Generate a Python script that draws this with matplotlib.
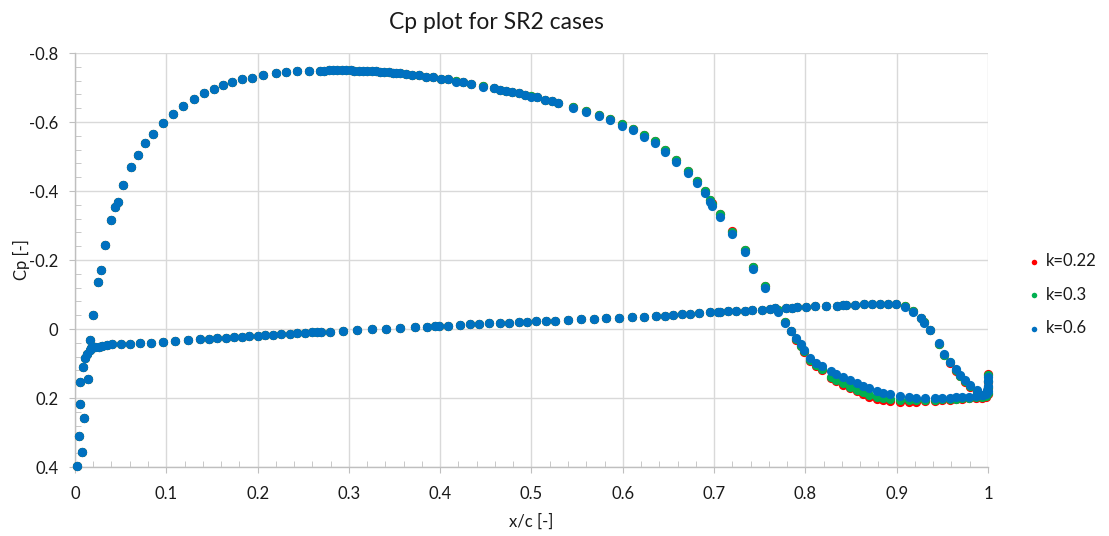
import matplotlib
matplotlib.use("Agg")
import matplotlib.pyplot as plt
from matplotlib.ticker import MultipleLocator

plt.rcParams['font.family'] = ['Lato', 'DejaVu Sans']

# ---------------- data ----------------
series_labels = ["k=0.22", "k=0.3", "k=0.6"]
series_colors = ["#FF0000", "#00B050", "#0070C0"]

# suction side
x_suction = [
    0.008, 0.010, 0.014, 0.017, 0.020, 0.025, 0.029, 0.033, 0.039, 0.044,
    0.047, 0.053, 0.061, 0.069, 0.077, 0.086, 0.096, 0.107, 0.118, 0.130,
    0.141, 0.152, 0.162, 0.172, 0.183, 0.194, 0.206, 0.220, 0.231, 0.243,
    0.256, 0.268, 0.273, 0.278, 0.283, 0.287, 0.292, 0.297, 0.302, 0.306,
    0.311, 0.316, 0.320, 0.325, 0.330, 0.334, 0.339, 0.344, 0.348, 0.352,
    0.356, 0.363, 0.369, 0.377, 0.385, 0.392, 0.401, 0.409, 0.417, 0.425,
    0.434, 0.447, 0.459, 0.465, 0.472, 0.479, 0.486, 0.493, 0.500, 0.506,
    0.515, 0.522, 0.529, 0.545, 0.560, 0.574, 0.586, 0.599, 0.611, 0.623,
    0.635, 0.646, 0.658, 0.671, 0.681, 0.690, 0.695, 0.698, 0.707, 0.720,
    0.734, 0.743, 0.756, 0.770, 0.778, 0.784, 0.790, 0.795, 0.799, 0.805,
    0.812, 0.818, 0.828, 0.834, 0.841, 0.849, 0.856, 0.863, 0.870, 0.878,
    0.885, 0.893, 0.904, 0.913, 0.921, 0.931, 0.942, 0.950, 0.958, 0.965,
    0.972, 0.979, 0.987, 0.993, 0.998, 1.000,
]
cp_suction_k06 = [
    0.357, 0.257, 0.144, 0.033, -0.040, -0.135, -0.171, -0.244, -0.315, -0.353,
    -0.369, -0.418, -0.470, -0.505, -0.538, -0.566, -0.598, -0.624, -0.646, -0.668,
    -0.684, -0.696, -0.707, -0.715, -0.725, -0.728, -0.736, -0.741, -0.744, -0.747,
    -0.748, -0.749, -0.749, -0.750, -0.750, -0.750, -0.750, -0.750, -0.750, -0.749,
    -0.749, -0.748, -0.748, -0.747, -0.747, -0.746, -0.745, -0.744, -0.743, -0.742,
    -0.741, -0.739, -0.736, -0.735, -0.731, -0.730, -0.726, -0.724, -0.717, -0.715,
    -0.710, -0.702, -0.698, -0.693, -0.690, -0.686, -0.683, -0.678, -0.673, -0.672,
    -0.664, -0.661, -0.654, -0.641, -0.629, -0.617, -0.605, -0.589, -0.576, -0.556,
    -0.538, -0.512, -0.484, -0.451, -0.424, -0.395, -0.369, -0.357, -0.326, -0.275,
    -0.222, -0.173, -0.119, -0.050, -0.018, 0.005, 0.027, 0.043, 0.061, 0.085,
    0.098, 0.107, 0.121, 0.130, 0.138, 0.148, 0.156, 0.165, 0.172, 0.179,
    0.185, 0.189, 0.194, 0.198, 0.201, 0.201, 0.201, 0.200, 0.199, 0.198,
    0.197, 0.196, 0.194, 0.192, 0.188, 0.180,
]
cp_suction_k03 = [
    0.357, 0.257, 0.144, 0.033, -0.040, -0.135, -0.171, -0.244, -0.315, -0.353,
    -0.369, -0.418, -0.470, -0.505, -0.538, -0.566, -0.598, -0.624, -0.646, -0.668,
    -0.684, -0.696, -0.707, -0.715, -0.725, -0.728, -0.736, -0.741, -0.744, -0.747,
    -0.748, -0.749, -0.749, -0.750, -0.750, -0.750, -0.750, -0.750, -0.750, -0.749,
    -0.749, -0.748, -0.748, -0.747, -0.747, -0.746, -0.745, -0.744, -0.743, -0.742,
    -0.741, -0.739, -0.736, -0.735, -0.731, -0.730, -0.726, -0.724, -0.718, -0.716,
    -0.711, -0.703, -0.699, -0.694, -0.691, -0.687, -0.684, -0.679, -0.674, -0.673,
    -0.665, -0.662, -0.656, -0.644, -0.632, -0.621, -0.609, -0.594, -0.581, -0.562,
    -0.544, -0.518, -0.490, -0.457, -0.430, -0.401, -0.375, -0.363, -0.332, -0.281,
    -0.228, -0.179, -0.125, -0.054, -0.020, 0.006, 0.030, 0.048, 0.064, 0.090,
    0.105, 0.117, 0.138, 0.147, 0.157, 0.167, 0.176, 0.184, 0.191, 0.196,
    0.201, 0.204, 0.206, 0.207, 0.207, 0.206, 0.205, 0.204, 0.203, 0.202,
    0.200, 0.199, 0.198, 0.197, 0.195, 0.186,
]
cp_suction_k022 = [
    0.357, 0.257, 0.144, 0.033, -0.040, -0.135, -0.171, -0.244, -0.315, -0.353,
    -0.369, -0.418, -0.470, -0.505, -0.538, -0.566, -0.598, -0.624, -0.646, -0.668,
    -0.684, -0.696, -0.707, -0.715, -0.725, -0.728, -0.736, -0.741, -0.744, -0.747,
    -0.748, -0.749, -0.749, -0.750, -0.750, -0.750, -0.750, -0.750, -0.750, -0.749,
    -0.749, -0.748, -0.748, -0.747, -0.747, -0.746, -0.745, -0.744, -0.743, -0.742,
    -0.741, -0.739, -0.736, -0.735, -0.731, -0.730, -0.726, -0.724, -0.718, -0.716,
    -0.711, -0.703, -0.699, -0.694, -0.691, -0.687, -0.684, -0.679, -0.674, -0.673,
    -0.665, -0.662, -0.656, -0.644, -0.632, -0.621, -0.609, -0.594, -0.581, -0.562,
    -0.544, -0.518, -0.490, -0.457, -0.430, -0.401, -0.375, -0.364, -0.333, -0.283,
    -0.230, -0.180, -0.126, -0.055, -0.020, 0.007, 0.032, 0.050, 0.066, 0.093,
    0.108, 0.120, 0.142, 0.151, 0.162, 0.172, 0.181, 0.189, 0.196, 0.202,
    0.207, 0.210, 0.212, 0.212, 0.211, 0.209, 0.208, 0.206, 0.205, 0.204,
    0.202, 0.201, 0.200, 0.199, 0.197, 0.188,
]

# pressure side
x_pressure = [
    0.002, 0.004, 0.005, 0.006, 0.009, 0.011, 0.013, 0.016, 0.018, 0.022,
    0.026, 0.030, 0.035, 0.041, 0.050, 0.060, 0.071, 0.083, 0.096, 0.110,
    0.124, 0.137, 0.147, 0.156, 0.165, 0.174, 0.183, 0.191, 0.200, 0.208,
    0.217, 0.226, 0.235, 0.243, 0.252, 0.260, 0.265, 0.269, 0.279, 0.294,
    0.309, 0.325, 0.341, 0.356, 0.372, 0.386, 0.394, 0.399, 0.409, 0.422,
    0.433, 0.442, 0.454, 0.465, 0.475, 0.486, 0.495, 0.505, 0.516, 0.526,
    0.540, 0.554, 0.568, 0.582, 0.596, 0.610, 0.623, 0.636, 0.646, 0.655,
    0.665, 0.674, 0.684, 0.695, 0.704, 0.706, 0.715, 0.724, 0.734, 0.742,
    0.752, 0.761, 0.767, 0.779, 0.785, 0.791, 0.801, 0.810, 0.823, 0.835,
    0.841, 0.845, 0.854, 0.864, 0.873, 0.882, 0.891, 0.899, 0.909, 0.918,
    0.927, 0.930, 0.936, 0.946, 0.952, 0.958, 0.965, 0.969, 0.975, 0.980,
    0.988, 0.995, 0.999, 1.000, 1.000, 1.000,
]
cp_pressure_k06 = [
    0.397, 0.309, 0.218, 0.155, 0.111, 0.085, 0.071, 0.061, 0.056, 0.053,
    0.051, 0.048, 0.045, 0.044, 0.043, 0.042, 0.041, 0.040, 0.038, 0.035,
    0.033, 0.030, 0.028, 0.026, 0.025, 0.024, 0.022, 0.020, 0.019, 0.018,
    0.017, 0.015, 0.014, 0.013, 0.012, 0.010, 0.010, 0.010, 0.009, 0.006,
    0.003, 0.001, -0.001, -0.003, -0.005, -0.007, -0.008, -0.008, -0.010, -0.012,
    -0.014, -0.015, -0.017, -0.018, -0.018, -0.020, -0.021, -0.022, -0.023, -0.024,
    -0.026, -0.028, -0.029, -0.031, -0.033, -0.034, -0.036, -0.038, -0.039, -0.041,
    -0.043, -0.044, -0.046, -0.048, -0.049, -0.049, -0.051, -0.052, -0.053, -0.054,
    -0.055, -0.057, -0.060, -0.060, -0.062, -0.065, -0.065, -0.067, -0.068, -0.068,
    -0.069, -0.070, -0.071, -0.072, -0.072, -0.072, -0.072, -0.072, -0.065, -0.050,
    -0.031, -0.018, 0.003, 0.041, 0.072, 0.095, 0.117, 0.133, 0.148, 0.162,
    0.177, 0.191, 0.178, 0.165, 0.150, 0.138,
]
cp_pressure_k03 = [
    0.397, 0.309, 0.218, 0.155, 0.111, 0.085, 0.071, 0.061, 0.056, 0.053,
    0.051, 0.048, 0.045, 0.044, 0.043, 0.042, 0.041, 0.040, 0.038, 0.035,
    0.033, 0.030, 0.028, 0.026, 0.025, 0.024, 0.022, 0.020, 0.019, 0.018,
    0.017, 0.015, 0.014, 0.013, 0.012, 0.010, 0.010, 0.010, 0.009, 0.006,
    0.003, 0.001, -0.001, -0.003, -0.005, -0.007, -0.008, -0.008, -0.010, -0.012,
    -0.014, -0.015, -0.017, -0.018, -0.018, -0.020, -0.021, -0.022, -0.023, -0.024,
    -0.026, -0.028, -0.029, -0.031, -0.033, -0.034, -0.036, -0.038, -0.039, -0.041,
    -0.043, -0.044, -0.046, -0.048, -0.049, -0.049, -0.051, -0.052, -0.053, -0.054,
    -0.055, -0.057, -0.060, -0.060, -0.062, -0.065, -0.065, -0.067, -0.068, -0.068,
    -0.069, -0.070, -0.071, -0.072, -0.072, -0.072, -0.072, -0.073, -0.066, -0.051,
    -0.032, -0.019, 0.003, 0.042, 0.074, 0.097, 0.120, 0.136, 0.151, 0.166,
    0.181, 0.195, 0.182, 0.168, 0.152, 0.132,
]
cp_pressure_k022 = [
    0.397, 0.309, 0.218, 0.155, 0.111, 0.085, 0.071, 0.061, 0.056, 0.053,
    0.051, 0.048, 0.045, 0.044, 0.043, 0.042, 0.041, 0.040, 0.038, 0.035,
    0.033, 0.030, 0.028, 0.026, 0.025, 0.024, 0.022, 0.020, 0.019, 0.018,
    0.017, 0.015, 0.014, 0.013, 0.012, 0.010, 0.010, 0.010, 0.009, 0.006,
    0.003, 0.001, -0.001, -0.003, -0.005, -0.007, -0.008, -0.008, -0.010, -0.012,
    -0.014, -0.015, -0.017, -0.018, -0.018, -0.020, -0.021, -0.022, -0.023, -0.024,
    -0.026, -0.028, -0.029, -0.031, -0.033, -0.034, -0.036, -0.038, -0.039, -0.041,
    -0.043, -0.044, -0.046, -0.048, -0.049, -0.049, -0.051, -0.052, -0.053, -0.054,
    -0.055, -0.057, -0.060, -0.060, -0.062, -0.065, -0.065, -0.067, -0.068, -0.068,
    -0.069, -0.070, -0.071, -0.072, -0.072, -0.073, -0.073, -0.073, -0.066, -0.051,
    -0.032, -0.019, 0.003, 0.042, 0.075, 0.098, 0.121, 0.137, 0.153, 0.168,
    0.183, 0.197, 0.184, 0.170, 0.154, 0.130,
]

x_ticks = [0, 0.1, 0.2, 0.3, 0.4, 0.5, 0.6, 0.7, 0.8, 0.9, 1]
x_tick_labels = ["0", "0.1", "0.2", "0.3", "0.4", "0.5", "0.6", "0.7", "0.8", "0.9", "1"]
y_ticks = [-0.8, -0.6, -0.4, -0.2, 0, 0.2, 0.4]
y_tick_labels = ["-0.8", "-0.6", "-0.4", "-0.2", "0", "0.2", "0.4"]

assert len(x_suction) == len(cp_suction_k06) == len(cp_suction_k03) == len(cp_suction_k022)
assert len(x_pressure) == len(cp_pressure_k06) == len(cp_pressure_k03) == len(cp_pressure_k022)

# ---------------- plot ----------------
fig = plt.figure(figsize=(11.09, 5.36), dpi=100)
ax = fig.add_axes([0.0676, 0.1287, 0.8233, 0.7724])

series_cp = [
    (cp_suction_k022, cp_pressure_k022),
    (cp_suction_k03, cp_pressure_k03),
    (cp_suction_k06, cp_pressure_k06),
]
for i, ((cps, cpp), lab, col) in enumerate(zip(series_cp, series_labels, series_colors)):
    ax.scatter(x_suction + x_pressure, cps + cpp, s=44, color=col,
               linewidths=0, label=lab, zorder=3 + i, clip_on=False)

ax.set_xlim(0, 1)
ax.set_ylim(0.4, -0.8)

ax.set_xticks(x_ticks)
ax.set_xticklabels(x_tick_labels)
ax.set_yticks(y_ticks)
ax.set_yticklabels(y_tick_labels)
ax.xaxis.set_minor_locator(MultipleLocator(0.02))
ax.yaxis.set_minor_locator(MultipleLocator(0.04))

grid_col = "#D9D9D9"
ax.grid(True, which="major", color=grid_col, linewidth=1.0, zorder=0)
ax.set_axisbelow(True)
for side in ["top", "right"]:
    ax.spines[side].set_visible(False)
for side in ["left", "bottom"]:
    ax.spines[side].set_color("#BFBFBF")
    ax.spines[side].set_linewidth(1.0)

ax.tick_params(which="major", length=4, color="#BFBFBF", direction="out",
               labelsize=12, labelcolor="#1A1A1A")
ax.tick_params(axis="x", which="major", pad=10)
ax.tick_params(axis="y", which="major", pad=8)
ax.tick_params(which="minor", length=4, color="#BFBFBF", direction="in")

ax.set_xlabel("x/c [-]", fontsize=12, color="#1A1A1A", labelpad=8)
ax.set_ylabel("Cp [-]", fontsize=12, color="#1A1A1A", labelpad=-1)

fig.text(0.448, 0.958, "Cp plot for SR2 cases", ha="center", va="center",
         fontsize=16.5, color="#1A1A1A")

leg = fig.legend(loc="center left", bbox_to_anchor=(0.926, 0.45), frameon=False,
                 fontsize=12, labelspacing=1.05, handletextpad=0.35,
                 handlelength=0.8, markerscale=0.6, scatterpoints=1,
                 borderpad=0.0, borderaxespad=0.0)
for t in leg.get_texts():
    t.set_color("#1A1A1A")

fig.savefig("out.png", dpi=100)
